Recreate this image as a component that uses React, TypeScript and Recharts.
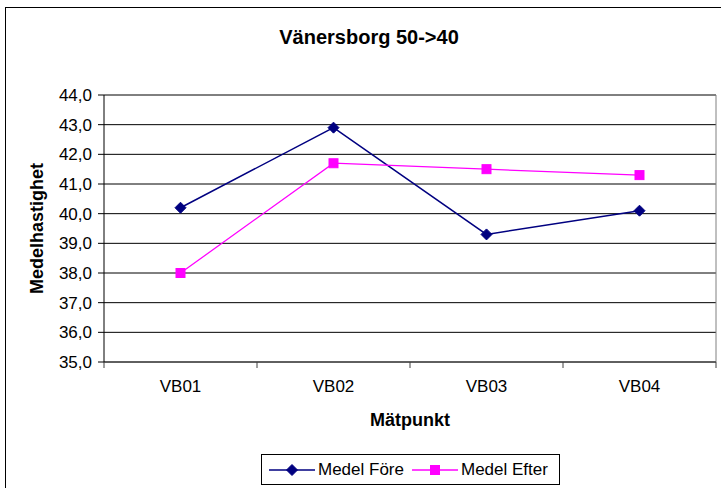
import { CartesianGrid, Legend, Line, LineChart, ReferenceLine, XAxis, YAxis } from "recharts"

const points = ["VB01", "VB02", "VB03", "VB04"]
const medelFore = [40.2, 42.9, 39.3, 40.1]
const medelEfter = [38.0, 41.7, 41.5, 41.3]
const yTicks = [35, 36, 37, 38, 39, 40, 41, 42, 43, 44]
const boundaryTicks = [0, 1, 2, 3, 4]
const centerTicks = points.map((_, i) => i + 0.5)

const NAVY = "#000080"
const MAGENTA = "#FF00FF"
const FONT = "'Liberation Sans', Arial, sans-serif"

const data = points.map((name, i) => ({
  name,
  pos: i + 0.5,
  fore: medelFore[i],
  efter: medelEfter[i],
}))

const fmt = (v: number) => v.toFixed(1).replace(".", ",")

function Diamond({ cx, cy, r = 5.5, color }: { cx: number; cy: number; r?: number; color: string }) {
  return <path d={`M${cx},${cy - r}L${cx + r},${cy}L${cx},${cy + r}L${cx - r},${cy}Z`} fill={color} stroke={color} />
}

function Square({ cx, cy, s = 4.5, color }: { cx: number; cy: number; s?: number; color: string }) {
  return <rect x={cx - s} y={cy - s} width={s * 2} height={s * 2} fill={color} stroke={color} />
}

function LegendBox() {
  const items = [
    { label: "Medel Före", color: NAVY, marker: "diamond" },
    { label: "Medel Efter", color: MAGENTA, marker: "square" },
  ]
  return (
    <div
      style={{
        display: "flex",
        alignItems: "center",
        height: 31,
        border: "1px solid #000",
        background: "#fff",
        fontFamily: FONT,
        fontSize: 17,
        paddingLeft: 7,
        boxSizing: "border-box",
        width: 299,
      }}
    >
      {items.map((it, i) => (
        <div key={it.label} style={{ display: "flex", alignItems: "center", marginLeft: i ? 8 : 0 }}>
          <svg width={46} height={14}>
            <line x1={0} y1={7} x2={46} y2={7} stroke={it.color} strokeWidth={1.5} />
            {it.marker === "diamond" ? (
              <Diamond cx={23} cy={7} color={it.color} />
            ) : (
              <Square cx={23} cy={7} color={it.color} />
            )}
          </svg>
          <span style={{ marginLeft: 3, lineHeight: "17px" }}>{it.label}</span>
        </div>
      ))}
    </div>
  )
}

export default function App() {
  return (
    <div style={{ position: "fixed", left: 0, top: 0, width: 721, height: 488, overflow: "hidden", background: "#fff" }}>
      <div
        style={{
          position: "absolute",
          left: 0,
          width: 738,
          top: 26,
          textAlign: "center",
          fontFamily: FONT,
          fontWeight: "bold",
          fontSize: 20,
        }}
      >
        Vänersborg 50-&gt;40
      </div>
      <div style={{ position: "absolute", left: 0, top: 0 }}>
        <LineChart width={721} height={488} data={data} margin={{ top: 95, right: 5, bottom: 96, left: 0 }}>
          <CartesianGrid vertical={false} stroke="#000" xAxisId="labels" />
          <XAxis
            xAxisId="labels"
            type="number"
            dataKey="pos"
            domain={[0, 4]}
            ticks={centerTicks}
            tickFormatter={(v: number) => points[Math.floor(v)]}
            tickLine={false}
            axisLine={false}
            tickSize={6}
            tickMargin={11}
            height={29}
            tick={{ fill: "#000", fontSize: 17, fontFamily: FONT }}
            label={{
              content: ({ viewBox }: any) => (
                <text
                  x={viewBox.x + viewBox.width / 2}
                  y={viewBox.y + 57}
                  dy="0.355em"
                  textAnchor="middle"
                  fontFamily={FONT}
                  fontWeight="bold"
                  fontSize={18}
                  fill="#000"
                >
                  Mätpunkt
                </text>
              ),
            }}
          />
          <XAxis
            xAxisId="base"
            type="number"
            dataKey="pos"
            domain={[0, 4]}
            ticks={boundaryTicks}
            tickFormatter={() => ""}
            tickSize={6}
            height={1}
            stroke="#404040"
          />
          <YAxis
            type="number"
            domain={[35, 44]}
            ticks={yTicks}
            tickFormatter={fmt}
            width={104}
            tickSize={6}
            tickMargin={6}
            stroke="#000"
            tick={{ fill: "#000", fontSize: 17, fontFamily: FONT }}
            label={{
              content: ({ viewBox }: any) => (
                <text
                  x={viewBox.x + 37}
                  y={viewBox.y + viewBox.height / 2}
                  transform={`rotate(-90 ${viewBox.x + 37} ${viewBox.y + viewBox.height / 2})`}
                  dy="0.355em"
                  textAnchor="middle"
                  fontFamily={FONT}
                  fontWeight="bold"
                  fontSize={18}
                  fill="#000"
                >
                  Medelhastighet
                </text>
              ),
            }}
          />
          <ReferenceLine y={44} xAxisId="labels" stroke="#808080" />
          <ReferenceLine x={4} xAxisId="labels" stroke="#808080" />
          <Line
            xAxisId="labels"
            dataKey="fore"
            name="Medel Före"
            stroke={NAVY}
            strokeWidth={1.5}
            isAnimationActive={false}
            dot={(p: any) => <Diamond key={`f${p.index}`} cx={p.cx} cy={p.cy} color={NAVY} />}
            activeDot={false}
          />
          <Line
            xAxisId="labels"
            dataKey="efter"
            name="Medel Efter"
            stroke={MAGENTA}
            strokeWidth={1.25}
            isAnimationActive={false}
            dot={(p: any) => <Square key={`e${p.index}`} cx={p.cx} cy={p.cy} color={MAGENTA} />}
            activeDot={false}
          />
          <Legend
            layout="horizontal"
            verticalAlign="middle"
            align="center"
            content={() => <LegendBox />}
            wrapperStyle={{ left: 261, top: 454, width: 299 }}
          />
        </LineChart>
      </div>
      <div
        style={{
          position: "absolute",
          left: 5,
          top: 7,
          width: 800,
          height: 600,
          border: "1px solid #000",
          boxSizing: "border-box",
          pointerEvents: "none",
        }}
      />
    </div>
  )
}
